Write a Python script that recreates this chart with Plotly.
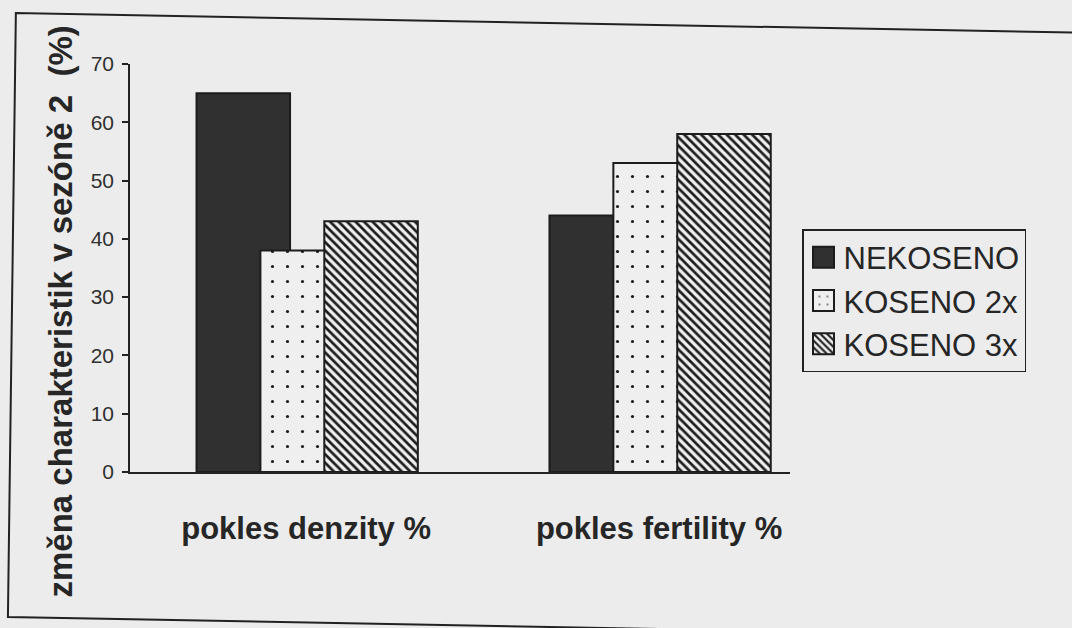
import plotly.graph_objects as go

# --- data -------------------------------------------------------------
categories = ["pokles denzity %", "pokles fertility %"]
series_names = ["NEKOSENO", "KOSENO 2x", "KOSENO 3x"]
nekoseno = [65, 44]
koseno_2x = [38, 53]
koseno_3x = [43, 58]
y_ticks = [0, 10, 20, 30, 40, 50, 60, 70]

# --- page geometry (pixels) --------------------------------------------
W, H = 1072, 628
L, R, T, B = 130, 277, 64, 156
pw, ph = W - L - R, H - T - B


def px(x):
    return (x - L) / pw


def py(y):
    return (H - B - y) / ph


PAPER = "#ececec"
INK = "#262626"
FONT = "Liberation Sans, Arial, sans-serif"

# overlapping bars inside each group
bar_w = 0.265
offsets = [-0.3105, -0.1295, 0.0515]
x_pos = list(range(len(categories)))

fig = go.Figure()

fig.add_trace(go.Bar(
    name=series_names[0], x=x_pos, y=nekoseno, width=bar_w, offset=offsets[0],
    marker=dict(color="#303030", line=dict(color="#1c1c1c", width=2)),
))
fig.add_trace(go.Bar(
    name=series_names[1], x=x_pos, y=koseno_2x, width=bar_w, offset=offsets[1],
    marker=dict(
        color="#1c1c1c",
        line=dict(color="#1c1c1c", width=2),
        pattern=dict(shape=".", size=15, solidity=0.035,
                     fgcolor="#1c1c1c", bgcolor="#efefef", fillmode="replace"),
    ),
))
fig.add_trace(go.Bar(
    name=series_names[2], x=x_pos, y=koseno_3x, width=bar_w, offset=offsets[2],
    marker=dict(
        color="#1c1c1c",
        line=dict(color="#1c1c1c", width=2),
        pattern=dict(shape="\\", size=6, solidity=0.45,
                     fgcolor="#1c1c1c", bgcolor="#f0f0f0", fillmode="replace"),
    ),
))

# outer frame of the figure, drawn as three edges
tl, tr = (15, 13), (1100, 33)
bl, br = (7, 617), (1100, 637)
frame_path = (
    f"M{px(tr[0])},{py(tr[1])} L{px(tl[0])},{py(tl[1])} "
    f"L{px(bl[0])},{py(bl[1])} L{px(br[0])},{py(br[1])}"
)

fig.update_layout(
    width=W, height=H,
    margin=dict(l=L, r=R, t=T, b=B, pad=0),
    paper_bgcolor=PAPER, plot_bgcolor=PAPER,
    barmode="overlay",
    showlegend=True,
    font=dict(family=FONT, color=INK),
    legend=dict(
        xref="container", yref="container",
        x=802 / W, y=1 - 229 / H, xanchor="left", yanchor="top",
        font=dict(size=31, family=FONT, color=INK),
        bordercolor="#222222", borderwidth=1.5,
        bgcolor="rgba(0,0,0,0)", traceorder="normal",
    ),
    xaxis=dict(
        range=[-0.499, 1.371],
        tickvals=x_pos, ticktext=categories,
        tickfont=dict(size=31, family=FONT, color=INK, weight="bold"),
        ticks="", showgrid=False, zeroline=False,
        showline=True, linecolor="#222222", linewidth=1.5,
        ticklabelstandoff=28,
    ),
    yaxis=dict(
        range=[0, 70], tickvals=y_ticks,
        tickfont=dict(size=21, color="#303030"),
        ticks="outside", ticklen=6, tickwidth=1.5, tickcolor="#222222",
        showgrid=False, zeroline=False,
        showline=True, linecolor="#222222", linewidth=1.5,
        ticklabelstandoff=4,
    ),
    shapes=[dict(type="path", xref="paper", yref="paper", path=frame_path,
                 line=dict(color="#222222", width=2))],
    annotations=[dict(
        text="<b>změna charakteristik v sezóně 2\u00a0 (%)</b>",
        xref="paper", yref="paper", x=px(59), y=py(312),
        xanchor="center", yanchor="middle", textangle=-90, showarrow=False,
        font=dict(size=33, family=FONT, color=INK),
    )],
)

# larger legend swatches
post = """
var gd = document.getElementById('{plot_id}');
gd.querySelectorAll('.legendpoints path').forEach(function(p){
    p.setAttribute('d', 'M10.5,10.5H-10.5V-10.5H10.5Z');
});
"""

fig.write_html("out.html", post_script=post)
